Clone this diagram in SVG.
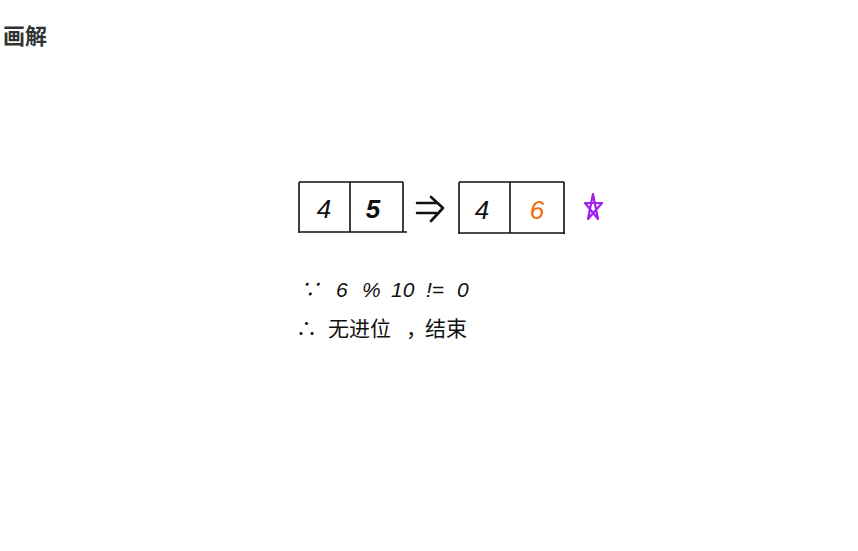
<svg xmlns="http://www.w3.org/2000/svg" width="858" height="551" viewBox="0 0 858 551">
<style>
.title{font-family:"Noto Sans CJK SC","Noto Sans",sans-serif;font-weight:bold;font-size:22px;fill:#333}
.box{fill:none;stroke:#111;stroke-width:1.6}
.dig{font-family:"Liberation Sans","Noto Sans CJK SC",sans-serif;font-style:italic;font-size:26px;fill:#111;text-anchor:middle}
.hw{font-family:"Liberation Sans","Noto Sans CJK SC",sans-serif;font-style:italic;font-size:21px;fill:#111}
.hwc{font-family:"Noto Sans CJK SC",sans-serif;font-size:21px;fill:#111}
</style>
<rect width="858" height="551" fill="#fff"/>
<text class="title" x="3" y="44">画解</text>
<g id="array1">
<path class="box" d="M299 182 H403 M299 232 H407 M299 182 V233 M350 182 V232 M403 182 V232"/>
<text class="dig" x="324" y="218">4</text>
<text class="dig" x="373" y="218" style="font-weight:bold">5</text>
</g>
<g id="connectors">
<path d="M417 203 H436 M417 213 H436 M431 197 L443 208 L431 221" fill="none" stroke="#111" stroke-width="2.6" stroke-linecap="round" stroke-linejoin="round"/>
</g>
<g id="array2">
<path class="box" d="M459 182 H564 M459 233 H565 M459 182 V234 M510 182 V233 M564 182 V234"/>
<text class="dig" x="482" y="219">4</text>
<text class="dig" x="537" y="219" style="fill:#f26a0a">6</text>
</g>
<g id="star">
<path d="M593 194 L598 219 L585 203 L602 203 L588 219 Z" fill="none" stroke="#a020f0" stroke-width="2.2" stroke-linejoin="round"/>
</g>
<g id="notes">
<text class="hw" y="297"><tspan x="299">∵</tspan><tspan x="336">6</tspan><tspan x="362">%</tspan><tspan x="391">10</tspan><tspan x="426">!=</tspan><tspan x="457">0</tspan></text>
<text class="hwc" y="336"><tspan x="296">∴</tspan><tspan x="328">无进位</tspan><tspan x="406">，</tspan><tspan x="425">结束</tspan></text>
</g>
</svg>
